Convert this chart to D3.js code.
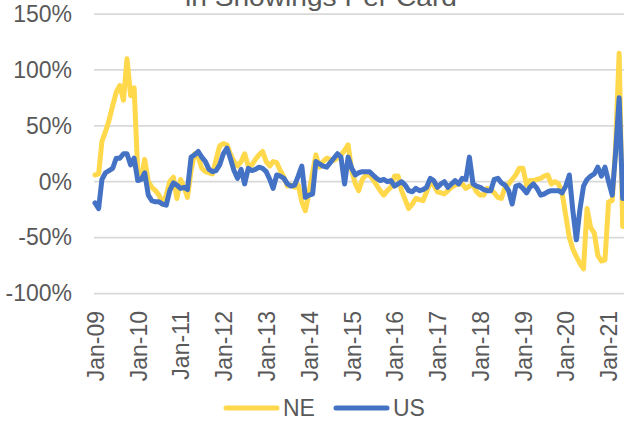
<!DOCTYPE html>
<html lang="en">
<head>
  <meta charset="UTF-8">
  <title>Showings Per Card</title>
  <style>
    body {
      margin: 0;
      background: #fff;
      overflow: hidden;
    }
    svg {
      display: block;
      font-family: "Liberation Sans", Arial, sans-serif;
    }
  </style>
</head>
<body>
  <div id="chart"></div>

  <script src="https://d3js.org/d3.v7.min.js"></script>
  <script>
    // Monthly categories, Jan-09 .. May-21
    const months = d3.timeMonth.range(new Date(2009, 0, 1), new Date(2021, 5, 1));

    // Year-over-year change, %
    const neValues = [
      6, 7, 36, 45, 55, 68, 80, 86, 73, 110, 77, 84,
      8, 5, 20, 0, -5, -8, -12, -20, -12, 0, 4, -15,
      2, -5, -14, 10, 25, 22, 12, 9, 8, 7, 20, 32,
      34, 33, 25, 18, 14, 18, 25, 14, 15, 20, 24, 27,
      18, 14, 18, 17, 10, 4, -4, -3, -5, -3, -18, -26,
      -10, 8, 24, 13, 18, 21, 20, 19, 21, 24, 28, 33,
      10, -2, -8, 2, 6, 6, 2, -3, -8, -12, -8, -5,
      5, 5, -8, -16, -24, -20, -15, -16, -17, -9, -1, -3,
      -9, -10, -11, -8, -5, -3, -2, -2, -6, -4, -3, -9,
      -12, -12, -6, -7, -10, -14, -15, -5, -2, 2, 6, 12,
      12, -3, 1, 1, 2, 3, 5, 6, -2, 0, -2, -10,
      -30, -50, -60, -67, -73, -78, -24, -41, -46, -66, -71, -70,
      -18, -17, 30, 115, -40
    ];
    const usValues = [
      -19, -24, 2, 8, 10, 12, 21, 21, 25, 25, 15, 21,
      1, 2, 8, -12, -17, -18, -18, -20, -21, -8, -1, -3,
      -6, -5, -7, 22, 24, 27, 22, 18, 11, 9, 10, 15,
      25, 30, 21, 10, 3, 11, -2, 12, 10, 11, 13, 12,
      9, 2, -6, 6, 5, 3, -2, -4, -3, 5, 14, -14,
      -12, -11, 18, 16, 14, 13, 17, 21, 25, 22, -2, 22,
      12, 6, 8, 9, 9, 9, 6, 3, 1, 2, 0, 1,
      -4, -2, 0, -3, -8, -9, -6, -8, -7, -5, 3, 1,
      -5, -2, 0, -5, -2, 1, -2, 3, 2, 22, -2, -4,
      -5, -7, -8, -8, 2, 3, -1, -3, -8, -20, -4, -3,
      -6, -10, -5, -2, -6, -12, -11, -9, -8, -8, -8, -10,
      -4, 6, -25, -52, -25, -4, 2, 5, 7, 13, 5, 13,
      0, -12, 25, 75, -15
    ];

    const seriesNames = ["NE", "US"];
    const seriesColors = ["#FFD84C", "#4472C4"];
    const yTicks = [-100, -50, 0, 50, 100, 150];
    const xTickLabels = ["Jan-09", "Jan-10", "Jan-11", "Jan-12", "Jan-13", "Jan-14", "Jan-15",
                         "Jan-16", "Jan-17", "Jan-18", "Jan-19", "Jan-20", "Jan-21"];

    const W = 624, H = 434;
    const plotLeft = 94, plotRight = 624;

    const svg = d3.select("#chart")
      .append("svg")
      .attr("width", W)
      .attr("height", H);

    const x = d3.scaleTime()
      .domain([new Date(2009, 0, 1), new Date(2021, 0, 1)])
      .range([95, 608.6]);

    const y = d3.scaleLinear()
      .domain([-100, 150])
      .range([293.5, 14]);

    // Title (only its lower line peeks in at the top edge, as in the source)
    svg.append("text")
      .attr("x", 321)
      .attr("y", 6)
      .attr("text-anchor", "middle")
      .attr("textLength", 272)
      .attr("lengthAdjust", "spacingAndGlyphs")
      .style("font-size", "25px")
      .style("fill", "#595959")
      .text("in Showings Per Card");

    // Gridlines
    svg.append("g")
      .selectAll("line")
      .data(yTicks)
      .join("line")
      .attr("x1", plotLeft)
      .attr("x2", plotRight)
      .attr("y1", d => y(d))
      .attr("y2", d => y(d))
      .attr("stroke", "#D9D9D9")
      .attr("stroke-width", 1.75);

    // Y axis labels
    const yAxis = svg.append("g")
      .attr("transform", "translate(72,0)")
      .call(d3.axisLeft(y).tickValues(yTicks).tickSize(0).tickPadding(0).tickFormat(d => d + "%"));
    yAxis.select(".domain").remove();
    yAxis.selectAll("text")
      .style("font-size", "23px")
      .style("fill", "#595959")
      .style("font-family", "'Liberation Sans', Arial, sans-serif");

    // X axis labels (rotated)
    const yearStarts = xTickLabels.map((_, i) => new Date(2009 + i, 0, 1));
    const xAxis = svg.append("g")
      .attr("transform", "translate(0,311)")
      .call(d3.axisBottom(x).tickValues(yearStarts).tickSize(0)
        .tickFormat((d, i) => xTickLabels[i]));
    xAxis.select(".domain").remove();
    xAxis.selectAll("text")
      .attr("transform", "rotate(-90)")
      .attr("text-anchor", "end")
      .attr("x", 0)
      .attr("y", 0)
      .attr("dy", "0.36em")
      .style("font-size", "23px")
      .style("fill", "#595959")
      .style("font-family", "'Liberation Sans', Arial, sans-serif");

    // Lines
    const line = d3.line()
      .x(d => x(d.date))
      .y(d => y(d.value));

    const series = [neValues, usValues].map((vals, k) => ({
      name: seriesNames[k],
      color: seriesColors[k],
      points: months.map((m, i) => ({ date: m, value: vals[i] }))
    }));

    svg.append("g")
      .selectAll("path")
      .data(series)
      .join("path")
      .attr("d", d => line(d.points))
      .attr("fill", "none")
      .attr("stroke", d => d.color)
      .attr("stroke-width", 5)
      .attr("stroke-linejoin", "round")
      .attr("stroke-linecap", "round");

    // Legend
    const legendItems = [
      { name: seriesNames[0], color: seriesColors[0], x: 226 },
      { name: seriesNames[1], color: seriesColors[1], x: 336 }
    ];
    const legend = svg.append("g").attr("transform", "translate(0,408)");
    const li = legend.selectAll("g")
      .data(legendItems)
      .join("g")
      .attr("transform", d => `translate(${d.x},0)`);
    li.append("line")
      .attr("x1", 0)
      .attr("x2", 51)
      .attr("stroke", d => d.color)
      .attr("stroke-width", 5)
      .attr("stroke-linecap", "round");
    li.append("text")
      .attr("x", 57)
      .attr("dy", "0.36em")
      .style("font-size", "23px")
      .style("fill", "#595959")
      .text(d => d.name);
  </script>
</body>
</html>
